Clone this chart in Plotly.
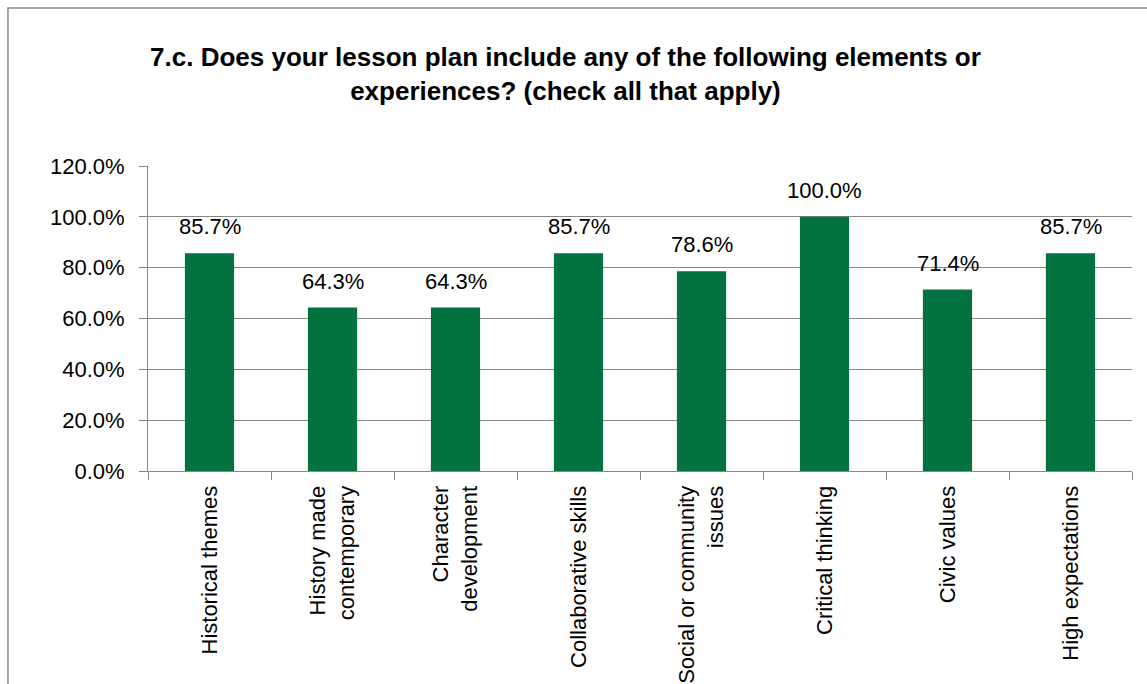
import plotly.graph_objects as go

# Survey question 7.c responses
categories = [
    "Historical themes",
    "History made<br>contemporary",
    "Character<br>development",
    "Collaborative skills",
    "Social or community<br>issues",
    "Critical thinking",
    "Civic values",
    "High expectations",
]
percentages = [85.7, 64.3, 64.3, 85.7, 78.6, 100.0, 71.4, 85.7]
y_tick_values = [0, 20, 40, 60, 80, 100, 120]
y_tick_labels = ["0.0%", "20.0%", "40.0%", "60.0%", "80.0%", "100.0%", "120.0%"]

FONT = "Liberation Sans Narrow, Arial Narrow, Liberation Sans, Arial, sans-serif"
BAR_COLOR = "#037140"
GRID = "#878787"

fig = go.Figure(
    go.Bar(
        x=categories,
        y=percentages,
        marker=dict(color=BAR_COLOR, line=dict(width=0)),
        width=0.4,
        hoverinfo="x+y",
    )
)

# value labels above bars
for cat, val in zip(categories, percentages):
    fig.add_annotation(
        x=cat, y=val, text=f"{val:.1f}%", showarrow=False,
        yanchor="bottom", yshift=12,
        font=dict(family=FONT, size=22, color="black"),
    )

# outer chart frame
fig.add_shape(
    type="rect", xref="paper", yref="paper",
    x0=-0.1423, x1=1.05, y0=-0.76, y1=1.518,
    line=dict(color="#8a8a8a", width=1.5), layer="below",
)

fig.update_layout(
    width=1147, height=684,
    margin=dict(l=148, r=15, t=166, b=213, autoexpand=False),
    paper_bgcolor="white", plot_bgcolor="white",
    showlegend=False,
    title=dict(
        text="7.c. Does your lesson plan include any of the following elements or<br>experiences? (check all that apply)",
        x=0.493, xanchor="center", y=0.903, yanchor="top",
        font=dict(family=FONT, size=26, color="black", weight="bold"),
    ),
    font=dict(family=FONT, size=22, color="black"),
)

fig.update_yaxes(
    range=[0, 120], tickvals=y_tick_values, ticktext=y_tick_labels,
    showgrid=True, gridcolor=GRID, gridwidth=1,
    showline=True, linecolor=GRID, linewidth=1,
    ticks="outside", ticklen=8, tickcolor=GRID, ticklabelstandoff=10,
    zeroline=False, fixedrange=True, automargin=False,
    tickfont=dict(family=FONT, size=22, color="black"),
)
fig.update_xaxes(
    tickangle=-90, tickson="boundaries",
    showline=True, linecolor=GRID, linewidth=1,
    ticks="outside", ticklen=8, tickcolor=GRID, ticklabelstandoff=5,
    tickfont=dict(family=FONT, size=22, color="black"),
    fixedrange=True, automargin=False,
)

fig.write_html("out.html")
